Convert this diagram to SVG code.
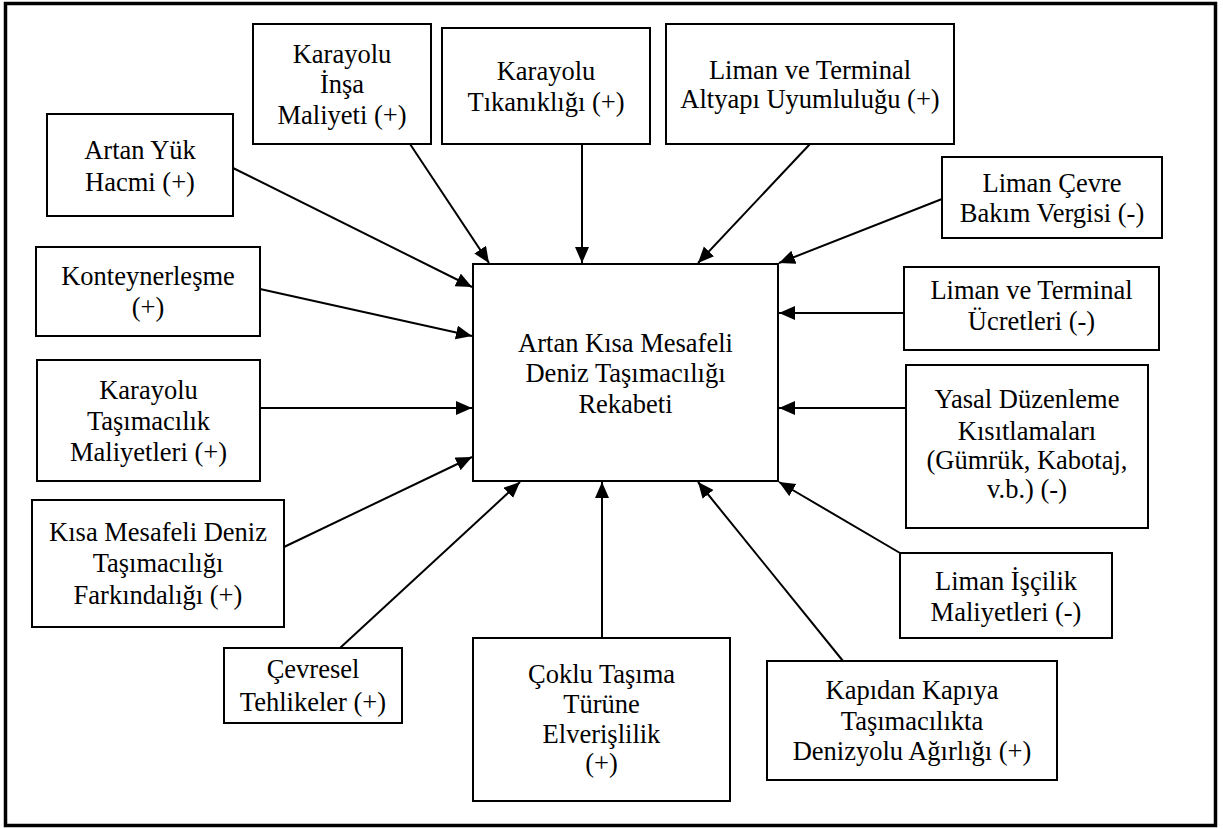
<svg xmlns="http://www.w3.org/2000/svg" width="1223" height="829" viewBox="0 0 1223 829">
<style>
.frame{fill:#fff;stroke:#000;stroke-width:3.5}
.box{fill:#fff;stroke:#000;stroke-width:2}
.c{stroke:#000;stroke-width:2;fill:none;marker-end:url(#ah)}
text{font-family:"Liberation Serif","Times New Roman",serif;font-size:26.5px;fill:#000;text-anchor:middle}
</style>
<defs>
<marker id="ah" markerUnits="userSpaceOnUse" markerWidth="17" markerHeight="15" refX="16" refY="7" orient="auto">
<path d="M0,0 L16,7 L0,14 z" fill="#000"/>
</marker>
</defs>
<rect x="0" y="0" width="1223" height="829" fill="#fff"/>
<rect class="frame" x="5.5" y="3.5" width="1210" height="822"/>
<g id="connectors">
<line class="c" x1="410" y1="144" x2="489" y2="263"/>
<line class="c" x1="582" y1="144" x2="582" y2="263"/>
<line class="c" x1="810" y1="144" x2="698" y2="263"/>
<line class="c" x1="942" y1="199" x2="779" y2="263"/>
<line class="c" x1="233" y1="168" x2="472" y2="287"/>
<line class="c" x1="260" y1="289" x2="472" y2="336"/>
<line class="c" x1="260" y1="408" x2="472" y2="408"/>
<line class="c" x1="284" y1="547" x2="472" y2="457"/>
<line class="c" x1="340" y1="648" x2="520" y2="482"/>
<line class="c" x1="602" y1="638" x2="602" y2="482"/>
<line class="c" x1="843" y1="661" x2="698" y2="482"/>
<line class="c" x1="900" y1="553" x2="779" y2="482"/>
<line class="c" x1="906" y1="408" x2="779" y2="408"/>
<line class="c" x1="904" y1="313" x2="779" y2="313"/>
</g>
<g id="center">
<rect class="box" x="473" y="264" width="305" height="217"/>
<text x="625.5" y="352">Artan Kısa Mesafeli</text>
<text x="625.5" y="382">Deniz Taşımacılığı</text>
<text x="625.5" y="413">Rekabeti</text>
</g>
<g id="insa">
<rect class="box" x="253" y="24" width="178" height="120"/>
<text x="342" y="63">Karayolu</text>
<text x="342" y="93">İnşa</text>
<text x="342" y="124">Maliyeti (+)</text>
</g>
<g id="yuk">
<rect class="box" x="47" y="114" width="186" height="102"/>
<text x="140" y="159">Artan Yük</text>
<text x="140" y="191">Hacmi (+)</text>
</g>
<g id="tikaniklik">
<rect class="box" x="442" y="28" width="208" height="116"/>
<text x="546" y="80">Karayolu</text>
<text x="546" y="111">Tıkanıklığı (+)</text>
</g>
<g id="altyapi">
<rect class="box" x="666" y="24" width="288" height="120"/>
<text x="810" y="79">Liman ve Terminal</text>
<text x="810" y="108">Altyapı Uyumluluğu (+)</text>
</g>
<g id="cevrevergi">
<rect class="box" x="942" y="157" width="220" height="81"/>
<text x="1052" y="192">Liman Çevre</text>
<text x="1052" y="222">Bakım Vergisi (-)</text>
</g>
<g id="konteyner">
<rect class="box" x="36" y="247" width="224" height="89"/>
<text x="148" y="285">Konteynerleşme</text>
<text x="148" y="316">(+)</text>
</g>
<g id="karayolutasima">
<rect class="box" x="37" y="360" width="223" height="121"/>
<text x="148.5" y="399">Karayolu</text>
<text x="148.5" y="430">Taşımacılık</text>
<text x="148.5" y="461">Maliyetleri (+)</text>
</g>
<g id="farkindalik">
<rect class="box" x="32" y="500" width="252" height="127"/>
<text x="158" y="541">Kısa Mesafeli Deniz</text>
<text x="158" y="572">Taşımacılığı</text>
<text x="158" y="604">Farkındalığı (+)</text>
</g>
<g id="cevresel">
<rect class="box" x="224" y="648" width="178" height="75"/>
<text x="313" y="678">Çevresel</text>
<text x="313" y="711">Tehlikeler (+)</text>
</g>
<g id="coklu">
<rect class="box" x="473" y="638" width="257" height="163"/>
<text x="601.5" y="683">Çoklu Taşıma</text>
<text x="601.5" y="713">Türüne</text>
<text x="601.5" y="743">Elverişlilik</text>
<text x="601.5" y="772">(+)</text>
</g>
<g id="kapidan">
<rect class="box" x="767" y="661" width="290" height="119"/>
<text x="912" y="699">Kapıdan Kapıya</text>
<text x="912" y="730">Taşımacılıkta</text>
<text x="912" y="760">Denizyolu Ağırlığı (+)</text>
</g>
<g id="iscilik">
<rect class="box" x="900" y="553" width="212" height="85"/>
<text x="1006" y="590">Liman İşçilik</text>
<text x="1006" y="621">Maliyetleri (-)</text>
</g>
<g id="ucretler">
<rect class="box" x="904" y="267" width="255" height="83"/>
<text x="1031.5" y="299">Liman ve Terminal</text>
<text x="1031.5" y="330">Ücretleri (-)</text>
</g>
<g id="yasal">
<rect class="box" x="906" y="365" width="242" height="163"/>
<text x="1027" y="408">Yasal Düzenleme</text>
<text x="1027" y="440">Kısıtlamaları</text>
<text x="1027" y="469">(Gümrük, Kabotaj,</text>
<text x="1027" y="498">v.b.) (-)</text>
</g>
</svg>
